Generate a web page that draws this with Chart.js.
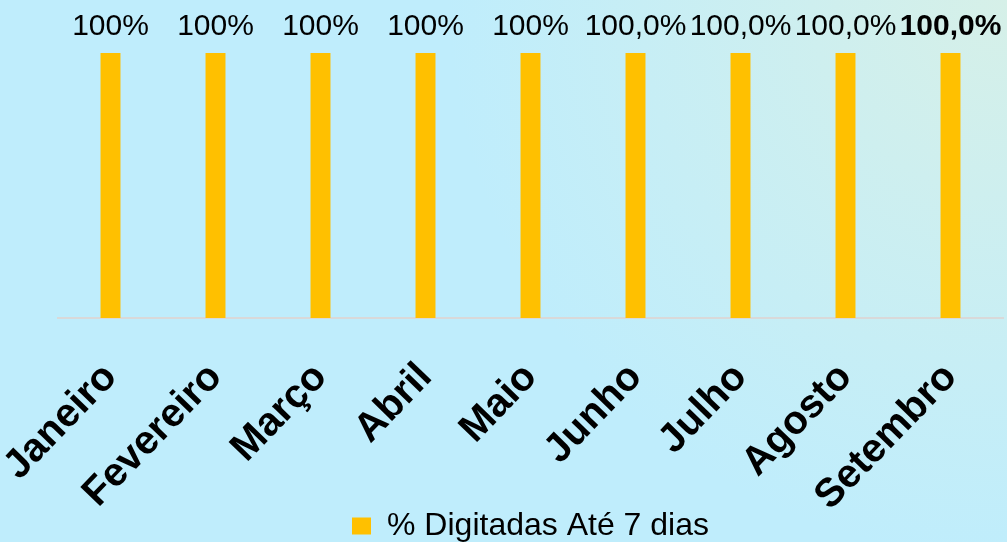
<!DOCTYPE html>
<html>
<head>
<meta charset="utf-8">
<script src="https://cdn.jsdelivr.net/npm/chart.js@4.4.0/dist/chart.umd.min.js"></script>
<style>
html,body{margin:0;padding:0;background:#BFEDFC;}
#wrap{width:1007px;height:542px;position:relative;}
</style>
</head>
<body>
<div id="wrap"><canvas id="c" width="1007" height="542"></canvas></div>
<script>
const categories = ["Janeiro","Fevereiro","Março","Abril","Maio","Junho","Julho","Agosto","Setembro"];
const seriesName = "% Digitadas Até 7 dias";
const values = [100,100,100,100,100,100,100,100,100];
const valueLabels = ["100%","100%","100%","100%","100%","100,0%","100,0%","100,0%","100,0%"];
const boldLabel = [false,false,false,false,false,false,false,false,true];

const bgPlugin = {
  id:'bg',
  beforeDraw(chart){
    const {ctx,width,height} = chart;
    ctx.save();
    ctx.fillStyle = '#BFEDFC';
    ctx.fillRect(0,0,width,height);
    const g = ctx.createRadialGradient(width,0,0,width,0,560);
    g.addColorStop(0,'rgba(214,240,232,1)');
    g.addColorStop(1,'rgba(214,240,232,0)');
    ctx.fillStyle = g;
    ctx.fillRect(0,0,width,height);
    ctx.restore();
  }
};

const labelPlugin = {
  id:'vlabels',
  afterDatasetsDraw(chart){
    const {ctx} = chart;
    const meta = chart.getDatasetMeta(0);
    ctx.save();
    ctx.fillStyle = '#000';
    ctx.textAlign = 'center';
    ctx.textBaseline = 'alphabetic';
    meta.data.forEach((bar,i)=>{
      ctx.font = (boldLabel[i]?'bold ':'') + '30px "Liberation Sans", Arial, sans-serif';
      ctx.fillText(valueLabels[i], bar.x, bar.y - 18);
    });
    ctx.restore();
  }
};

new Chart(document.getElementById('c'), {
  type:'bar',
  data:{
    labels: categories,
    datasets:[{
      label: seriesName,
      data: values,
      backgroundColor:'#FFC000',
      borderWidth:0,
      barPercentage:0.19,
      categoryPercentage:1.0
    }]
  },
  options:{
    responsive:false,
    animation:false,
    layout:{padding:{top:53,left:58,right:4,bottom:0}},
    plugins:{
      tooltip:{enabled:false},
      legend:{
        position:'bottom',
        maxHeight:32,
        labels:{
          color:'#000',
          font:{family:'"Liberation Sans", Arial, sans-serif',size:32},
          boxWidth:19,
          boxHeight:17,
          padding:0
        }
      }
    },
    scales:{
      y:{display:false,min:0,max:100},
      x:{
        grid:{display:false,drawTicks:false},
        border:{display:true,color:'#D9D9D9',width:2},
        ticks:{
          color:'#000',
          font:{family:'"Liberation Sans", Arial, sans-serif',size:40,weight:'bold'},
          maxRotation:46,minRotation:46,
          padding:36,
          autoSkip:false
        },
        afterFit(scale){
          scale.height = 542-318-32;
          scale.paddingLeft = 0;
          scale.paddingRight = 0;
        }
      }
    }
  },
  plugins:[bgPlugin,labelPlugin]
});
</script>
</body>
</html>
